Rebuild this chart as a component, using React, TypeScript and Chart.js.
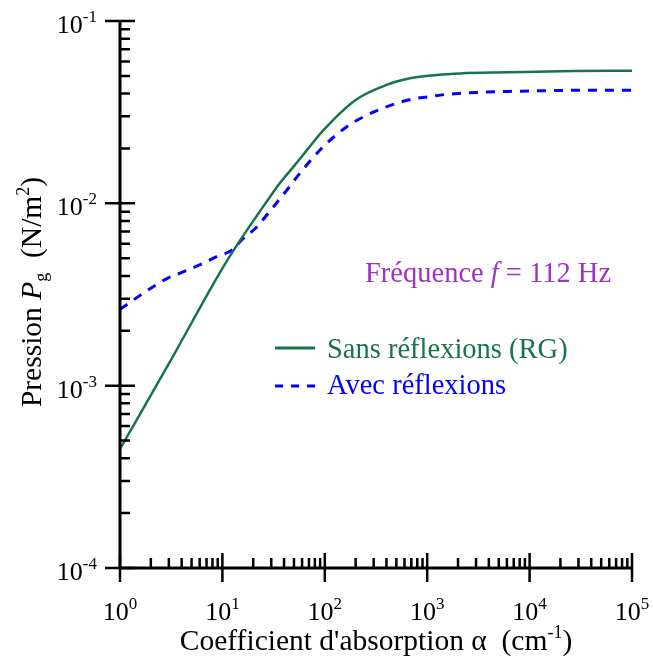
import React, { useEffect, useRef } from "react";
import { Chart, registerables } from "chart.js";

Chart.register(...registerables);

// Data
const alphaSans = [1, 3, 10, 15, 27, 36, 50, 66, 97, 200, 400, 680, 1240, 2100, 6000, 27000, 100000];
const pSans = [4.5e-4, 1.32e-3, 4.4e-3, 6.3e-3, 0.0102, 0.0128, 0.016, 0.0194, 0.0252, 0.0369, 0.0446, 0.0485, 0.0506, 0.0516, 0.0523, 0.0532, 0.0534];

const alphaAvec = [1, 1.35, 2, 2.9, 4.2, 6, 8.8, 12.8, 15.4, 21.6, 27, 44, 57, 97, 164, 238, 346, 504, 730, 1065, 1550, 7500, 76000, 100000];
const pAvec = [2.62e-3, 2.95e-3, 3.42e-3, 3.88e-3, 4.22e-3, 4.6e-3, 5.1e-3, 5.6e-3, 6.3e-3, 7.4e-3, 8.6e-3, 0.0121, 0.0146, 0.0205, 0.0263, 0.0298, 0.0328, 0.0354, 0.0374, 0.0385, 0.0396, 0.0412, 0.0417, 0.0417];

const xTickExps = [0, 1, 2, 3, 4, 5];
const yTickExps = [-4, -3, -2, -1];

const seriesLabels = ["Sans réflexions (RG)", "Avec réflexions"];
const freqLabel = ["Fréquence ", "f", " = 112 Hz"];

const GREEN = "#17744a";
const BLUE = "#0000ff";
const PURPLE = "#a030c8";
const FONT = "'Liberation Serif', 'Times New Roman', serif";
const TXT = 28.5;
const TITLE = 29.5;

function drawPow(ctx: CanvasRenderingContext2D, exp: string, x: number, y: number, align: "right" | "center") {
  ctx.save();
  ctx.fillStyle = "#000";
  ctx.textAlign = "left";
  ctx.textBaseline = "alphabetic";
  const bf = `26px ${FONT}`;
  const ef = `17px ${FONT}`;
  ctx.font = bf;
  const wb = ctx.measureText("10").width;
  ctx.font = ef;
  const we = ctx.measureText(exp).width;
  const total = wb + we;
  const start = align === "right" ? x - total : x - total / 2;
  ctx.font = bf;
  ctx.fillText("10", start, y);
  ctx.font = ef;
  ctx.fillText(exp, start + wb, y - 11);
  ctx.restore();
}

const axesPlugin = {
  id: "customAxes",
  afterDatasetsDraw(chart: any) {
    const ctx: CanvasRenderingContext2D = chart.ctx;
    const xs = chart.scales.x;
    const ys = chart.scales.y;
    const x0 = xs.getPixelForValue(1);
    const x1 = xs.getPixelForValue(1e5);
    const y0 = ys.getPixelForValue(1e-4);
    const y1 = ys.getPixelForValue(1e-1);
    ctx.save();
    ctx.strokeStyle = "#000";
    ctx.lineCap = "butt";
    ctx.lineWidth = 3;
    ctx.beginPath();
    ctx.moveTo(x0, y0);
    ctx.lineTo(x0, y1);
    ctx.moveTo(x0, y0);
    ctx.lineTo(x1, y0);
    ctx.stroke();

    ctx.lineWidth = 2.5;
    ctx.beginPath();
    yTickExps.forEach((e, i) => {
      const v = Math.pow(10, e);
      const py = ys.getPixelForValue(v);
      ctx.moveTo(x0 - 15, py);
      ctx.lineTo(x0 + 15, py);
      if (i < yTickExps.length - 1) {
        for (let m = 2; m <= 9; m++) {
          const pm = ys.getPixelForValue(m * v);
          ctx.moveTo(x0, pm);
          ctx.lineTo(x0 + 10, pm);
        }
      }
    });
    xTickExps.forEach((e, i) => {
      const v = Math.pow(10, e);
      const px = xs.getPixelForValue(v);
      ctx.moveTo(px, y0 - 15);
      ctx.lineTo(px, y0 + 14);
      if (i < xTickExps.length - 1) {
        for (let m = 2; m <= 9; m++) {
          const pm = xs.getPixelForValue(m * v);
          ctx.moveTo(pm, y0);
          ctx.lineTo(pm, y0 - 10);
        }
      }
    });
    ctx.stroke();
    ctx.restore();

    yTickExps.forEach((e) => {
      const py = ys.getPixelForValue(Math.pow(10, e));
      drawPow(ctx, String(e), 97, py + 12, "right");
    });
    xTickExps.forEach((e) => {
      const px = xs.getPixelForValue(Math.pow(10, e));
      drawPow(ctx, String(e), px, 620, "center");
    });

    // x title
    ctx.save();
    ctx.fillStyle = "#000";
    ctx.textBaseline = "alphabetic";
    ctx.font = `${TITLE}px ${FONT}`;
    const t1 = "Coefficient d'absorption α  (cm";
    const w1 = ctx.measureText(t1).width;
    ctx.font = `18px ${FONT}`;
    const wsup = ctx.measureText("-1").width;
    ctx.font = `${TITLE}px ${FONT}`;
    const w3 = ctx.measureText(")").width;
    const totalX = w1 + wsup + w3;
    const sx = 376 - totalX / 2;
    ctx.textAlign = "left";
    ctx.fillText(t1, sx, 650);
    ctx.font = `18px ${FONT}`;
    ctx.fillText("-1", sx + w1, 638);
    ctx.font = `${TITLE}px ${FONT}`;
    ctx.fillText(")", sx + w1 + wsup, 650);
    ctx.restore();

    // y title (rotated)
    ctx.save();
    ctx.translate(41, 292);
    ctx.rotate(-Math.PI / 2);
    ctx.fillStyle = "#000";
    ctx.textAlign = "left";
    ctx.textBaseline = "alphabetic";
    const parts: [string, string, number][] = [
      ["Pression ", `${TITLE}px ${FONT}`, 0],
      ["P", `italic ${TITLE}px ${FONT}`, 0],
      ["g", `18px ${FONT}`, 6],
      ["  (N/m", `${TITLE}px ${FONT}`, 0],
      ["2", `18px ${FONT}`, -12],
      [")", `${TITLE}px ${FONT}`, 0],
    ];
    let tw = 0;
    parts.forEach(([s, f]) => {
      ctx.font = f;
      tw += ctx.measureText(s).width;
    });
    let cx = -tw / 2;
    parts.forEach(([s, f, dy]) => {
      ctx.font = f;
      ctx.fillText(s, cx, dy);
      cx += ctx.measureText(s).width;
    });
    ctx.restore();

    // frequency annotation
    ctx.save();
    ctx.fillStyle = PURPLE;
    ctx.textAlign = "left";
    ctx.textBaseline = "alphabetic";
    let fx = 365;
    const fparts: [string, string][] = [
      [freqLabel[0], `${TXT}px ${FONT}`],
      [freqLabel[1], `italic ${TXT}px ${FONT}`],
      [freqLabel[2], `${TXT}px ${FONT}`],
    ];
    fparts.forEach(([s, f]) => {
      ctx.font = f;
      ctx.fillText(s, fx, 282);
      fx += ctx.measureText(s).width;
    });
    ctx.restore();

    // legend
    ctx.save();
    ctx.lineWidth = 3;
    ctx.strokeStyle = GREEN;
    ctx.beginPath();
    ctx.moveTo(275, 348);
    ctx.lineTo(315, 348);
    ctx.stroke();
    ctx.strokeStyle = BLUE;
    ctx.setLineDash([8, 8]);
    ctx.beginPath();
    ctx.moveTo(275, 386);
    ctx.lineTo(315, 386);
    ctx.stroke();
    ctx.setLineDash([]);
    ctx.font = `${TXT}px ${FONT}`;
    ctx.textAlign = "left";
    ctx.fillStyle = GREEN;
    ctx.fillText(seriesLabels[0], 327, 358);
    ctx.fillStyle = BLUE;
    ctx.fillText(seriesLabels[1], 327, 394);
    ctx.restore();
  },
};

export default function App() {
  const ref = useRef<HTMLCanvasElement | null>(null);
  useEffect(() => {
    if (!ref.current) return;
    const chart = new Chart(ref.current, {
      type: "line",
      data: {
        datasets: [
          {
            label: seriesLabels[0],
            data: alphaSans.map((a, i) => ({ x: a, y: pSans[i] })),
            borderColor: GREEN,
            borderWidth: 2.5,
            pointRadius: 0,
            fill: false,
            cubicInterpolationMode: "monotone",
          },
          {
            label: seriesLabels[1],
            data: alphaAvec.map((a, i) => ({ x: a, y: pAvec[i] })),
            borderColor: BLUE,
            borderWidth: 3,
            borderDash: [9, 8],
            pointRadius: 0,
            fill: false,
            cubicInterpolationMode: "monotone",
          },
        ],
      },
      options: {
        animation: false,
        responsive: false,
        devicePixelRatio: 1,
        layout: { padding: { left: 120, right: 21, top: 21, bottom: 96 } },
        plugins: { legend: { display: false }, tooltip: { enabled: false } },
        scales: {
          x: { type: "logarithmic", min: 1, max: 1e5, display: false },
          y: { type: "logarithmic", min: 1e-4, max: 1e-1, display: false },
        },
      },
      plugins: [axesPlugin],
    } as any);
    return () => chart.destroy();
  }, []);
  return (
    <div style={{ position: "fixed", left: 0, top: 0, width: 653, height: 664, background: "#fff" }}>
      <canvas ref={ref} width={653} height={664} />
    </div>
  );
}
